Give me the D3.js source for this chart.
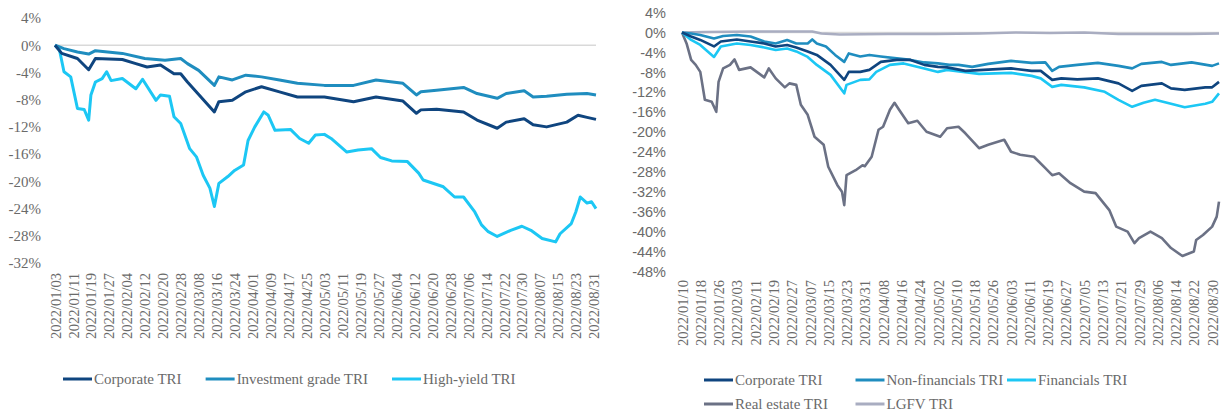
<!DOCTYPE html>
<html>
<head>
<meta charset="utf-8">
<script src="https://d3js.org/d3.v7.min.js"></script>
<style>
  body { margin: 0; background: #fff; }
  .serif { font-family: "Liberation Serif", "DejaVu Serif", serif; }
  .sans { font-family: "Liberation Sans", Arial, sans-serif; }
</style>
</head>
<body>
<svg id="chart" width="1222" height="416"></svg>
<script>

// ---- left panel data (2022, MM/DD, % total return) ----
var leftTicks = ["01/03","01/11","01/19","01/27","02/04","02/12","02/20","02/28","03/08","03/16",
  "03/24","04/01","04/09","04/17","04/25","05/03","05/11","05/19","05/27","06/04","06/12",
  "06/20","06/28","07/06","07/14","07/22","07/30","08/07","08/15","08/23","08/31"]
var leftYTicks = [4, 0, -4, -8, -12, -16, -20, -24, -28, -32]

var corporateL = [["01/03",0],["01/06",-1.2],["01/13",-1.95],["01/18",-3.6],["01/21",-1.95],
  ["02/02",-2.1],["02/08",-2.7],["02/13",-3.2],["02/19",-2.9],["02/25",-4.2],["02/28",-4.2],
  ["03/03",-5.4],["03/09",-7.6],["03/15",-9.8],["03/17",-8.3],["03/23",-8.1],["03/29",-6.85],
  ["04/05",-6.1],["04/13",-6.85],["04/21",-7.6],["05/03",-7.6],["05/16",-8.3],["05/26",-7.6],
  ["06/07",-8.2],["06/13",-10.0],["06/15",-9.5],["06/22",-9.4],["07/04",-9.8],["07/10",-11.0],
  ["07/19",-12.2],["07/23",-11.3],["07/31",-10.8],["08/04",-11.7],["08/10",-12.0],["08/19",-11.3],
  ["08/24",-10.3],["08/28",-10.6],["09/01",-10.9]]

var investmentL = [["01/03",0],["01/07",-0.5],["01/13",-1.0],["01/18",-1.3],["01/21",-0.8],
  ["02/02",-1.2],["02/12",-1.95],["02/21",-2.2],["02/28",-1.95],["03/03",-2.7],["03/08",-3.7],
  ["03/15",-5.9],["03/17",-4.65],["03/23",-5.1],["03/29",-4.4],["04/05",-4.65],["04/13",-5.1],
  ["04/21",-5.6],["05/03",-5.9],["05/16",-5.9],["05/26",-5.1],["06/07",-5.6],["06/13",-7.3],
  ["06/15",-6.85],["06/22",-6.6],["07/04",-6.2],["07/10",-7.1],["07/19",-7.8],["07/23",-7.1],
  ["07/31",-6.7],["08/04",-7.6],["08/10",-7.5],["08/19",-7.2],["08/28",-7.1],["09/01",-7.3]]

var highYieldL = [["01/03",0],["01/05",-0.7],["01/07",-3.9],["01/10",-4.65],["01/13",-9.3],
  ["01/16",-9.45],["01/18",-11.0],["01/19",-7.3],["01/21",-5.4],["01/24",-4.9],["01/26",-3.9],
  ["01/28",-5.2],["02/02",-4.9],["02/08",-6.4],["02/11",-5.0],["02/17",-8.1],["02/19",-7.3],
  ["02/23",-7.5],["02/25",-10.5],["02/28",-11.5],["03/04",-15.2],["03/07",-16.4],["03/10",-19.1],
  ["03/13",-21.0],["03/15",-23.7],["03/17",-20.3],["03/21",-19.3],["03/24",-18.4],["03/28",-17.6],
  ["03/30",-14.0],["04/02",-12.0],["04/06",-9.8],["04/08",-10.3],["04/11",-12.5],["04/18",-12.4],
  ["04/22",-13.7],["04/26",-14.4],["04/29",-13.2],["05/03",-13.1],["05/06",-13.7],["05/13",-15.7],
  ["05/18",-15.4],["05/24",-15.2],["05/28",-16.5],["06/02",-17.0],["06/09",-17.1],["06/14",-18.8],
  ["06/16",-19.8],["06/25",-20.8],["06/30",-22.3],["07/04",-22.3],["07/09",-24.5],["07/12",-26.4],
  ["07/15",-27.4],["07/19",-28.1],["07/25",-27.2],["07/30",-26.6],["08/03",-27.2],["08/08",-28.4],
  ["08/14",-28.9],["08/16",-27.7],["08/21",-26.2],["08/23",-24.5],["08/25",-22.3],["08/28",-23.2],
  ["08/30",-23.0],["09/01",-24.0]]

// ---- right panel data ----
var rightTicks = ["01/10","01/18","01/26","02/03","02/11","02/19","02/27","03/07","03/15","03/23",
  "03/31","04/08","04/16","04/24","05/02","05/10","05/18","05/26","06/03","06/11","06/19",
  "06/27","07/05","07/13","07/21","07/29","08/06","08/14","08/22","08/30"]
var rightYTicks = [4, 0, -4, -8, -12, -16, -20, -24, -28, -32, -36, -40, -44, -48]

var corporateR = [["01/10",0],["01/14",-0.8],["01/18",-1.5],["01/24",-2.8],["01/27",-1.8],
  ["02/03",-1.4],["02/09",-1.8],["02/15",-2.2],["02/20",-2.8],["02/25",-2.5],["03/01",-3.0],
  ["03/06",-3.8],["03/10",-4.5],["03/16",-6.5],["03/22",-9.5],["03/24",-7.9],["03/29",-7.9],
  ["04/02",-7.5],["04/07",-5.9],["04/14",-5.5],["04/20",-5.5],["04/26",-6.5],["05/02",-6.9],
  ["05/06",-7.0],["05/14",-7.7],["05/22",-7.5],["06/03",-7.2],["06/12",-7.7],["06/16",-7.7],
  ["06/21",-9.5],["06/25",-9.2],["07/02",-9.4],["07/11",-9.2],["07/20",-10.2],["07/26",-11.7],
  ["07/30",-10.7],["08/08",-10.2],["08/12",-11.2],["08/18",-11.5],["08/27",-11.0],["08/30",-11.0],
  ["09/02",-9.9]]

var nonFinR = [["01/10",0],["01/14",-0.2],["01/18",-0.5],["01/24",-1.2],["01/28",-0.7],
  ["02/03",-0.5],["02/09",-0.8],["02/15",-1.8],["02/20",-2.2],["02/25",-1.5],["03/01",-2.2],
  ["03/06",-2.2],["03/08",-1.4],["03/10",-2.2],["03/14",-2.8],["03/18",-4.5],["03/22",-5.9],
  ["03/24",-4.2],["03/29",-4.8],["04/02",-4.5],["04/07",-4.8],["04/14",-5.2],["04/20",-5.5],
  ["04/26",-6.0],["05/02",-6.2],["05/07",-6.5],["05/11",-6.5],["05/17",-6.9],["05/24",-6.3],
  ["06/03",-5.7],["06/12",-6.1],["06/18",-6.0],["06/21",-7.7],["06/24",-6.9],["07/02",-6.5],
  ["07/11",-6.1],["07/20",-6.7],["07/26",-7.2],["07/30",-6.3],["08/08",-5.9],["08/12",-6.5],
  ["08/21",-6.0],["08/30",-6.7],["09/02",-6.2]]

var financialsR = [["01/10",0],["01/14",-1.5],["01/18",-2.5],["01/24",-4.9],["01/27",-2.8],
  ["02/03",-2.2],["02/09",-2.5],["02/15",-3.0],["02/20",-3.5],["02/25",-3.2],["03/01",-3.8],
  ["03/06",-4.9],["03/10",-6.5],["03/16",-8.5],["03/22",-12.2],["03/23",-10.5],["03/29",-9.5],
  ["04/02",-9.4],["04/05",-7.9],["04/11",-6.5],["04/17",-6.2],["04/26",-7.2],["05/02",-7.9],
  ["05/06",-7.5],["05/20",-8.3],["06/03",-8.1],["06/12",-8.7],["06/16",-9.2],["06/21",-10.9],
  ["06/25",-10.5],["07/05",-11.0],["07/14",-11.9],["07/20",-13.5],["07/26",-14.9],["07/31",-14.1],
  ["08/05",-13.5],["08/12",-14.3],["08/18",-15.0],["08/27",-14.3],["08/30",-13.9],["09/02",-12.2]]

var realEstateR = [["01/10",0],["01/12",-2.2],["01/14",-5.5],["01/16",-6.5],["01/18",-7.9],
  ["01/20",-13.5],["01/23",-13.9],["01/25",-15.9],["01/26",-9.9],["01/28",-7.2],["01/31",-6.5],
  ["02/02",-5.4],["02/04",-7.5],["02/09",-7.0],["02/15",-9.0],["02/17",-7.2],["02/20",-9.2],
  ["02/24",-11.0],["02/26",-10.2],["03/01",-10.5],["03/03",-14.5],["03/06",-16.5],["03/09",-20.9],
  ["03/13",-22.5],["03/15",-26.9],["03/19",-30.6],["03/21",-31.9],["03/22",-34.6],["03/23",-28.6],
  ["03/27",-27.6],["03/30",-26.6],["03/31",-26.8],["04/03",-24.9],["04/06",-19.5],["04/08",-18.9],
  ["04/11",-15.5],["04/13",-14.1],["04/15",-15.5],["04/19",-18.2],["04/23",-17.7],["04/27",-19.9],
  ["05/03",-20.9],["05/06",-19.2],["05/11",-18.9],["05/14",-20.2],["05/20",-23.2],["05/24",-22.5],
  ["05/31",-21.5],["06/03",-23.9],["06/07",-24.5],["06/13",-24.9],["06/18",-27.2],["06/21",-28.6],
  ["06/24",-28.2],["06/29",-30.2],["07/05",-31.9],["07/10",-32.2],["07/16",-35.6],["07/19",-38.9],
  ["07/24",-39.9],["07/27",-42.2],["07/29",-41.2],["08/03",-39.9],["08/08",-41.2],["08/12",-43.2],
  ["08/17",-44.8],["08/22",-43.9],["08/23",-41.6],["08/26",-40.6],["08/30",-38.9],["09/01",-36.9],
  ["09/02",-33.9]]

var lgfvR = [["01/10",0],["01/20",0.1],["02/10",0.2],["03/01",0.2],["03/08",0.2],["03/12",-0.2],
  ["03/20",-0.4],["04/10",-0.3],["05/01",-0.3],["05/20",-0.2],["06/05",0],["06/20",-0.1],
  ["07/05",0],["07/20",-0.3],["08/05",-0.3],["08/20",-0.3],["09/02",-0.2]]

var leftNames = ["Corporate TRI", "Investment grade TRI", "High-yield TRI"]
var rightNames = ["Corporate TRI", "Non-financials TRI", "Financials TRI", "Real estate TRI", "LGFV TRI"]

// colours
var cNavy = "#0f457f", cMid = "#1f8dbf", cCyan = "#1cc7f4", cSlate = "#6b7185", cLgfv = "#a9adc1"

var parse = d3.timeParse("%Y/%m/%d")
var fmt = d3.timeFormat("%Y/%m/%d")
function toDate(md) { return parse("2022/" + md) }

var svg = d3.select("#chart")
var grey = "#6a6a6a"

function drawPanel(p) {
  var g = svg.append("g")

  var x = d3.scaleTime()
    .domain([toDate(p.series[0].data[0][0]), toDate(p.end)])
    .range([p.x0, p.x1])

  var y = d3.scaleLinear()
    .domain([p.yTicks[p.yTicks.length - 1], p.yTicks[0]])
    .range([p.yBottom, p.yTop])

  // zero line
  g.append("line")
    .attr("x1", p.x0).attr("x2", p.x1)
    .attr("y1", y(0)).attr("y2", y(0))
    .attr("stroke", "#d9d9d9").attr("stroke-width", 1.5)

  // y axis
  var yAxis = d3.axisLeft(y).tickValues(p.yTicks).tickSize(0).tickPadding(0)
    .tickFormat(function(d) { return d + "%" })
  var ya = g.append("g").attr("transform", "translate(" + p.yLabelX + ",0)").call(yAxis)
  ya.attr("font-family", null).attr("font-size", null)
  ya.select(".domain").remove()
  ya.selectAll("text")
    .attr("class", p.yFont)
    .attr("fill", grey)
    .style("font-size", p.yFontSize + "px")

  // x axis, rotated date labels
  var xAxis = d3.axisBottom(x).tickValues(p.xTicks.map(toDate)).tickSize(0).tickFormat(fmt)
  var xa = g.append("g").attr("transform", "translate(0," + p.xLabelY + ")").call(xAxis)
  xa.attr("font-family", null).attr("font-size", null)
  xa.select(".domain").remove()
  xa.selectAll("text")
    .attr("class", "serif")
    .attr("transform", "rotate(-90)")
    .attr("text-anchor", "end")
    .attr("x", 0).attr("y", 0).attr("dy", "0.35em")
    .attr("fill", grey)
    .style("font-size", "14.5px")

  var line = d3.line()
    .x(function(d) { return x(toDate(d[0])) })
    .y(function(d) { return y(d[1]) })

  // draw back to front
  p.series.slice().reverse().forEach(function(s) {
    g.append("path")
      .datum(s.data)
      .attr("d", line)
      .attr("fill", "none")
      .attr("stroke", s.color)
      .attr("stroke-width", p.lineW)
      .attr("stroke-linejoin", "round")
  })

  // legend
  var lg = g.append("g")
  var cx = p.legendX
  p.series.forEach(function(s, i) {
    var lx, ly
    if (p.legendCols) {
      lx = p.legendX + (i % p.legendCols) * p.legendColW
      ly = p.legendY + Math.floor(i / p.legendCols) * 24
    } else {
      lx = cx
      ly = p.legendY
    }
    lg.append("line")
      .attr("x1", lx).attr("x2", lx + 29)
      .attr("y1", ly).attr("y2", ly)
      .attr("stroke", s.color).attr("stroke-width", 3)
    var t = lg.append("text")
      .attr("class", "serif")
      .attr("x", lx + 31).attr("y", ly).attr("dy", "0.35em")
      .attr("fill", grey)
      .style("font-size", "15px")
      .text(s.name)
    cx = lx + 31 + t.node().getComputedTextLength() + 24
  })
}

drawPanel({
  x0: 55, x1: 596, end: "09/01",
  yTop: 18, yBottom: 263, yTicks: leftYTicks,
  yLabelX: 41, yFont: "serif", yFontSize: 15,
  xTicks: leftTicks, xLabelY: 273,
  lineW: 3,
  legendX: 63, legendY: 379,
  series: [
    {name: leftNames[0], color: cNavy, data: corporateL},
    {name: leftNames[1], color: cMid, data: investmentL},
    {name: leftNames[2], color: cCyan, data: highYieldL}
  ]
})

drawPanel({
  x0: 682, x1: 1219, end: "09/02",
  yTop: 12.5, yBottom: 272, yTicks: rightYTicks,
  yLabelX: 666, yFont: "sans", yFontSize: 14.5,
  xTicks: rightTicks, xLabelY: 280,
  lineW: 2.6,
  legendX: 704, legendY: 380, legendCols: 3, legendColW: 151.5,
  series: [
    {name: rightNames[0], color: cNavy, data: corporateR},
    {name: rightNames[1], color: cMid, data: nonFinR},
    {name: rightNames[2], color: cCyan, data: financialsR},
    {name: rightNames[3], color: cSlate, data: realEstateR},
    {name: rightNames[4], color: cLgfv, data: lgfvR}
  ]
})

</script>
</body>
</html>
